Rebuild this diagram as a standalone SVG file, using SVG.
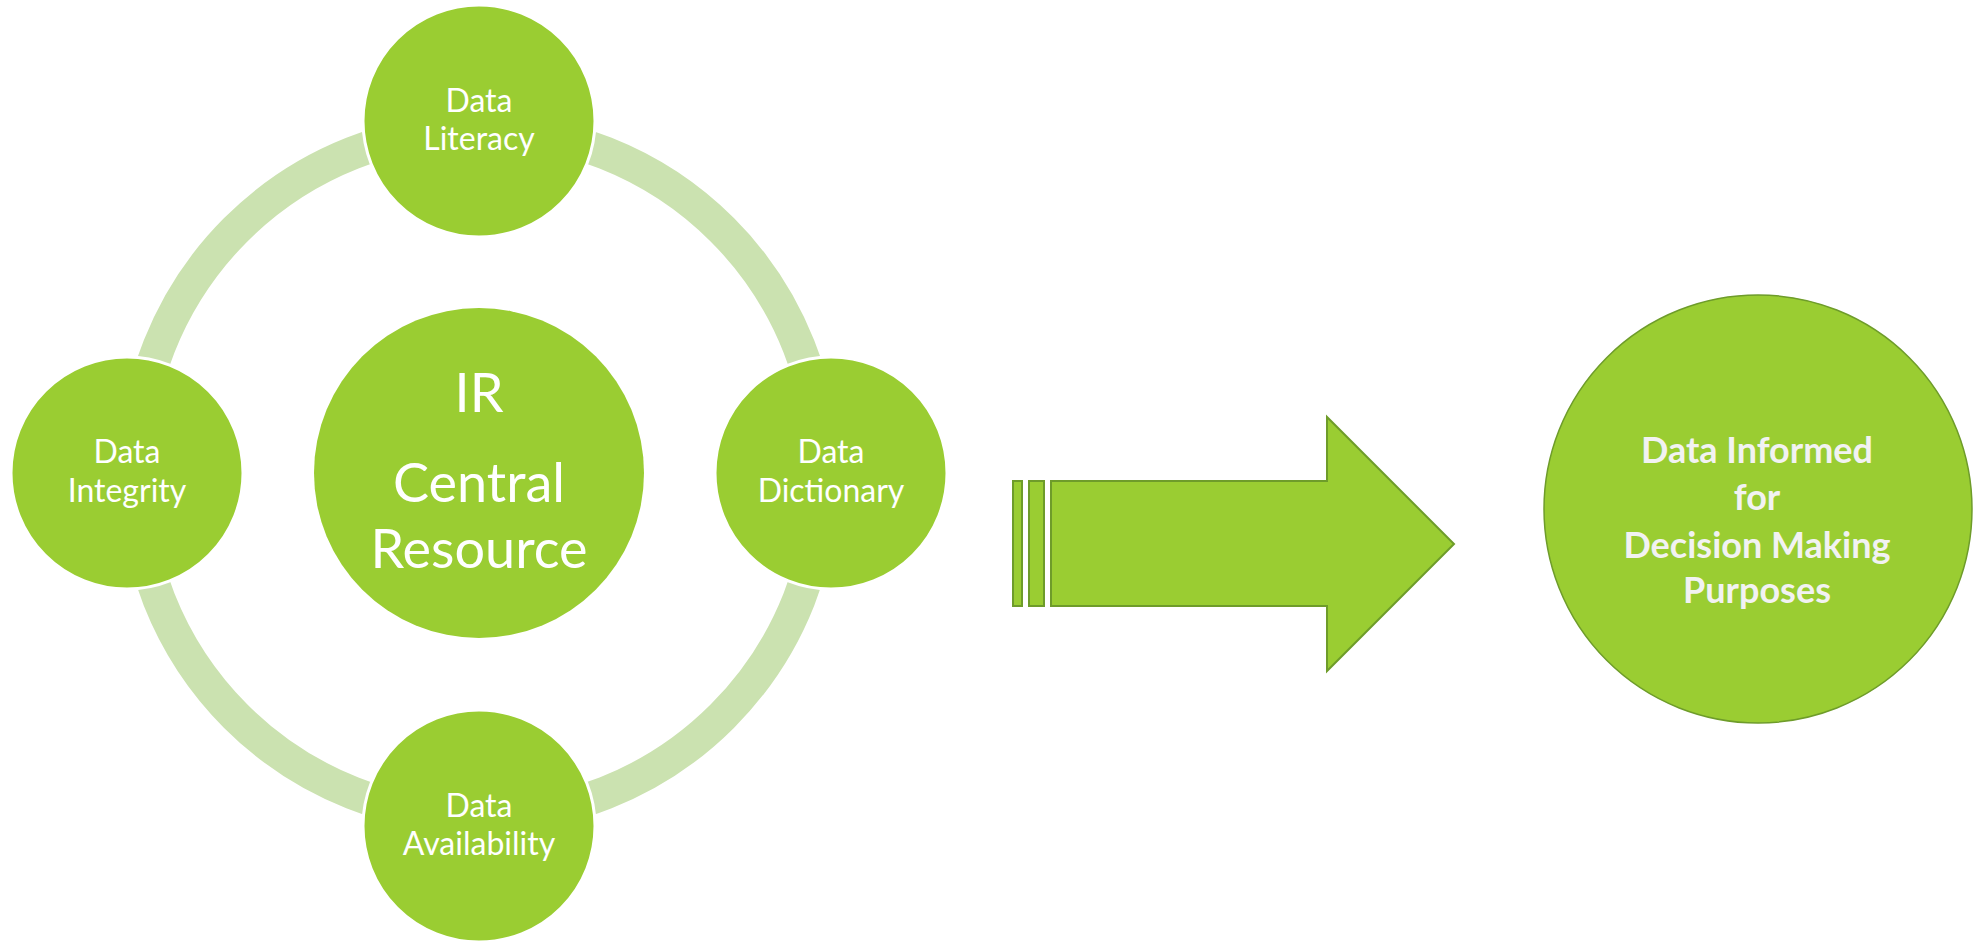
<svg xmlns="http://www.w3.org/2000/svg" width="1974" height="942" viewBox="0 0 1974 942">
<style>
.node{fill:#9ACD32;stroke:#FFFFFF;stroke-width:3}
.lbl{font-family:Lato,"Open Sans","Liberation Sans",sans-serif;fill:#FFFFFF;text-anchor:middle}
.sm{font-size:32px}
.big{font-size:54px}
.out{fill:#9ACD32;stroke:#6E9C2A;stroke-width:2}
.res{font-family:Lato,"Open Sans","Liberation Sans",sans-serif;fill:#F2F2F2;text-anchor:middle;font-weight:bold;font-size:36px}
</style>
<rect width="1974" height="942" fill="#FFFFFF"/>
<g id="connectors">
<circle cx="479" cy="473" r="344" fill="none" stroke="#CBE2B0" stroke-width="33"/>
<g id="arrow">
<rect class="out" x="1013" y="481" width="9" height="125"/>
<rect class="out" x="1029" y="481" width="15" height="125"/>
<polygon class="out" points="1051,481 1327,481 1327,417 1454,544 1327,671 1327,606 1051,606"/>
</g>
</g>
<g id="center">
<circle cx="479" cy="473" r="165" fill="#9ACD32"/>
<text class="lbl big" x="479" y="412">IR</text>
<text class="lbl big" x="479" y="502">Central</text>
<text class="lbl big" x="479" y="568">Resource</text>
</g>
<g id="literacy">
<circle class="node" cx="479" cy="121" r="116"/>
<text class="lbl sm" x="479" y="112">Data</text>
<text class="lbl sm" x="479" y="150">Literacy</text>
</g>
<g id="dictionary">
<circle class="node" cx="831" cy="473" r="116"/>
<text class="lbl sm" x="831" y="463">Data</text>
<text class="lbl sm" x="831" y="502">Dictionary</text>
</g>
<g id="availability">
<circle class="node" cx="479" cy="826" r="116"/>
<text class="lbl sm" x="479" y="817">Data</text>
<text class="lbl sm" x="479" y="855">Availability</text>
</g>
<g id="integrity">
<circle class="node" cx="127" cy="473" r="116"/>
<text class="lbl sm" x="127" y="463">Data</text>
<text class="lbl sm" x="127" y="502">Integrity</text>
</g>
<g id="result">
<circle cx="1758" cy="509" r="214" fill="#9ACD32" stroke="#6E9C2A" stroke-width="1.5"/>
<text class="res" x="1757" y="463">Data Informed</text>
<text class="res" x="1757" y="510">for</text>
<text class="res" x="1757" y="558">Decision Making</text>
<text class="res" x="1757" y="603">Purposes</text>
</g>
</svg>
